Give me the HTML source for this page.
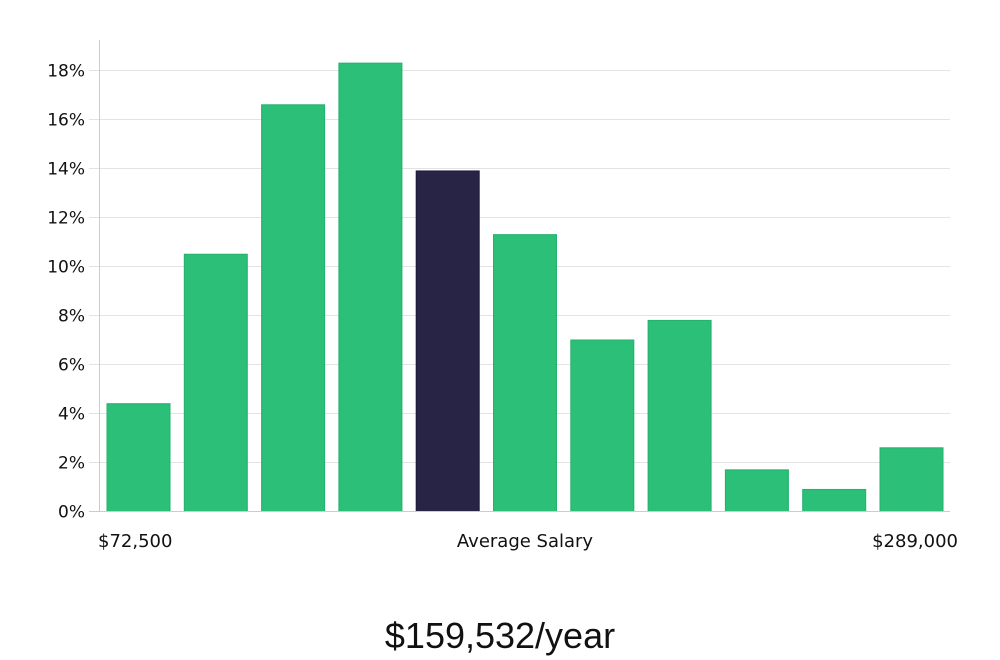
<!DOCTYPE html>
<html><head><meta charset="utf-8"><style>
html,body{margin:0;padding:0;background:#fff;width:1000px;height:660px;overflow:hidden}
svg text{font-family:"DejaVu Sans","Liberation Sans",sans-serif;fill:#111}
</style></head><body>
<svg id="chart" width="1000" height="660" xmlns="http://www.w3.org/2000/svg">
<g id="grid"></g>
<g id="bars"></g>
<g id="yticks"></g>
<line x1="99.5" y1="40" x2="99.5" y2="512" stroke="#ccc"/>
<line x1="89" y1="511.5" x2="950" y2="511.5" stroke="#ccc"/>
<text x="98" y="547" font-size="18">$72,500</text>
<text x="525" y="547" font-size="18" text-anchor="middle">Average Salary</text>
<text x="958" y="547" font-size="18" text-anchor="end">$289,000</text>
<text x="500" y="648" font-size="36" text-anchor="middle" style="font-family:'Liberation Sans',sans-serif;font-weight:300">$159,532/year</text>
</svg>
<script>
const values = [4.4, 10.5, 16.6, 18.3, 13.9, 11.3, 7.0, 7.8, 1.7, 0.9, 2.6];
const highlightIndex = [4];
const yTicks = [0, 2, 4, 6, 8, 10, 12, 14, 16, 18];
const NS = "http://www.w3.org/2000/svg";
const y0 = 511.5, pxPer = 24.5;
function yScale(v){ return y0 - v * pxPer; }
const x0 = 103.5, pitch = 77.3, bw = 63;
function xScale(i){ return x0 + i * pitch + 3.5; }
const grid = document.getElementById('grid'), yt = document.getElementById('yticks'), bars = document.getElementById('bars');
yTicks.forEach(t => {
  const y = yScale(t);
  if (t > 0) {
    const l = document.createElementNS(NS, 'line');
    
    
    l.setAttribute('x1', 89); l.setAttribute('x2', 950);
    l.setAttribute('y1', y); l.setAttribute('y2', y);
    l.setAttribute('stroke', '#e3e3e3');
    grid.appendChild(l);
  }
  const tx = document.createElementNS(NS, 'text');
  
  
  tx.setAttribute('x', 85); tx.setAttribute('y', y + 6);
  tx.setAttribute('text-anchor', 'end'); tx.setAttribute('font-size', '17');
  tx.textContent = t + '%';
  yt.appendChild(tx);
});
values.forEach((v, i) => {
  const r = document.createElementNS(NS, 'rect');
  
  
  const hl = highlightIndex.includes(i);
  r.setAttribute('x', xScale(i)); r.setAttribute('width', bw);
  r.setAttribute('y', yScale(v)); r.setAttribute('height', y0 - yScale(v));
  r.setAttribute('fill', hl ? '#272445' : '#2bbf78');
  r.setAttribute('stroke', hl ? '#1e1b38' : '#25b06d');
  r.setAttribute('stroke-width', '1');
  bars.appendChild(r);
});
</script>
</body></html>
